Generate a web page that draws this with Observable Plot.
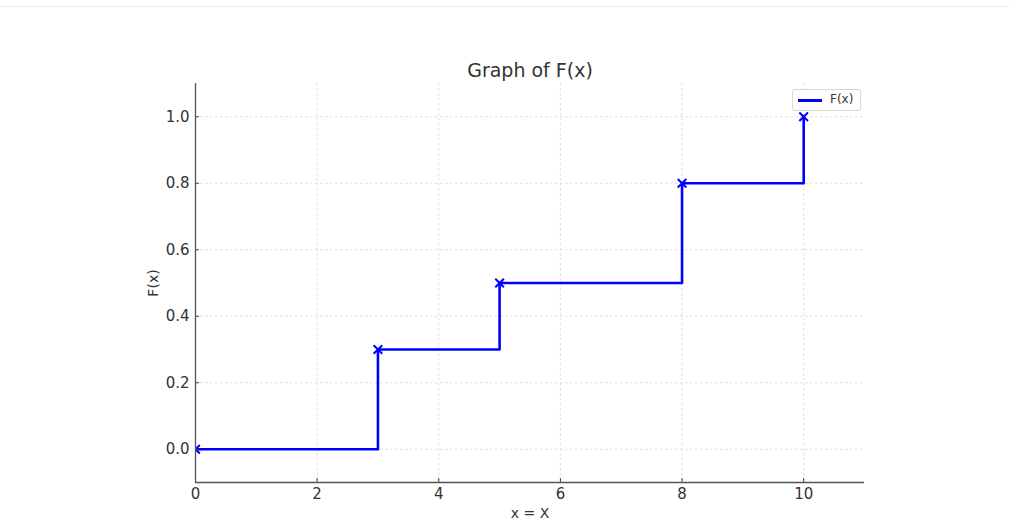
<!DOCTYPE html>
<html><head><meta charset="utf-8">
<script src="https://cdn.jsdelivr.net/npm/d3@7"></script>
<script src="https://cdn.jsdelivr.net/npm/@observablehq/plot@0.6"></script>
<style>
body{margin:0;background:#fff;font-family:"DejaVu Sans",sans-serif;}
#wrap{position:relative;width:1009px;height:531px;overflow:hidden;}
#topline{position:absolute;left:0;top:6px;width:1009px;height:1px;background:#ececec;}
#legend{position:absolute;left:792px;top:89px;width:69px;height:22px;border:1px solid #d8d8d8;border-radius:3px;background:#fff;box-sizing:border-box;}
#legend .ln{position:absolute;left:5px;top:9px;width:24px;height:2.5px;background:#0000ff;}
#legend .tx{position:absolute;left:37px;top:2px;font-size:12px;color:#333;}
</style></head>
<body><div id="wrap"><div id="topline"></div><div id="chart"></div>
<div id="legend"><div class="ln"></div><div class="tx">F(x)</div></div></div>
<script>
const xs = [0, 3, 5, 8, 10];
const Fs = [0.0, 0.3, 0.5, 0.8, 1.0];
const xTicks = [0, 2, 4, 6, 8, 10];
const yTicks = [0.0, 0.2, 0.4, 0.6, 0.8, 1.0];
const data = xs.map((x, i) => ({x, F: Fs[i]}));

const chart = Plot.plot({
  width: 1009, height: 531,
  marginLeft: 195, marginRight: 145, marginTop: 83, marginBottom: 49,
  style: {fontFamily: "DejaVu Sans, sans-serif", fontSize: "15px", color: "#333", background: "#fff"},
  x: {domain: [0, 11], ticks: xTicks, label: null},
  y: {domain: [-0.1, 1.1], ticks: yTicks, label: null},
  marks: [
    Plot.gridX(xTicks, {stroke: "#d6d6d6", strokeOpacity: 1, strokeDasharray: "2.5,2.5", strokeWidth: 0.8}),
    Plot.gridY(yTicks, {stroke: "#d6d6d6", strokeOpacity: 1, strokeDasharray: "2.5,2.5", strokeWidth: 0.8}),
    Plot.line(data, {x: "x", y: "F", curve: "step-after", stroke: "#0000ff", strokeWidth: 2.6, clip: true}),
    Plot.dot(data, {x: "x", y: "F", symbol: "times", r: 4, stroke: "#0000ff", strokeWidth: 2, clip: true}),
    Plot.axisX(xTicks, {tickSize: -4, tickPadding: 10, stroke: "#444", fill: "#333", fontSize: 15, tickFormat: d => String(d), label: null}),
    Plot.axisY(yTicks, {tickSize: -4, tickPadding: 10, stroke: "#444", fill: "#333", fontSize: 15, tickFormat: d3.format(".1f"), label: null}),
    Plot.ruleX([0], {stroke: "#555", strokeWidth: 1.3}),
    Plot.ruleY([-0.1], {stroke: "#555", strokeWidth: 1.3}),
    Plot.text(["Graph of F(x)"], {frameAnchor: "top", lineAnchor: "middle", dy: -13, fontSize: 19, fill: "#333"}),
    Plot.text(["x = X"], {frameAnchor: "bottom", lineAnchor: "middle", dy: 31, fontSize: 14, fill: "#333"}),
    Plot.text(["F(x)"], {frameAnchor: "left", textAnchor: "middle", lineAnchor: "middle", dx: -42, rotate: -90, fontSize: 14, fill: "#333"})
  ]
});
document.getElementById("chart").appendChild(chart);
</script></body></html>
